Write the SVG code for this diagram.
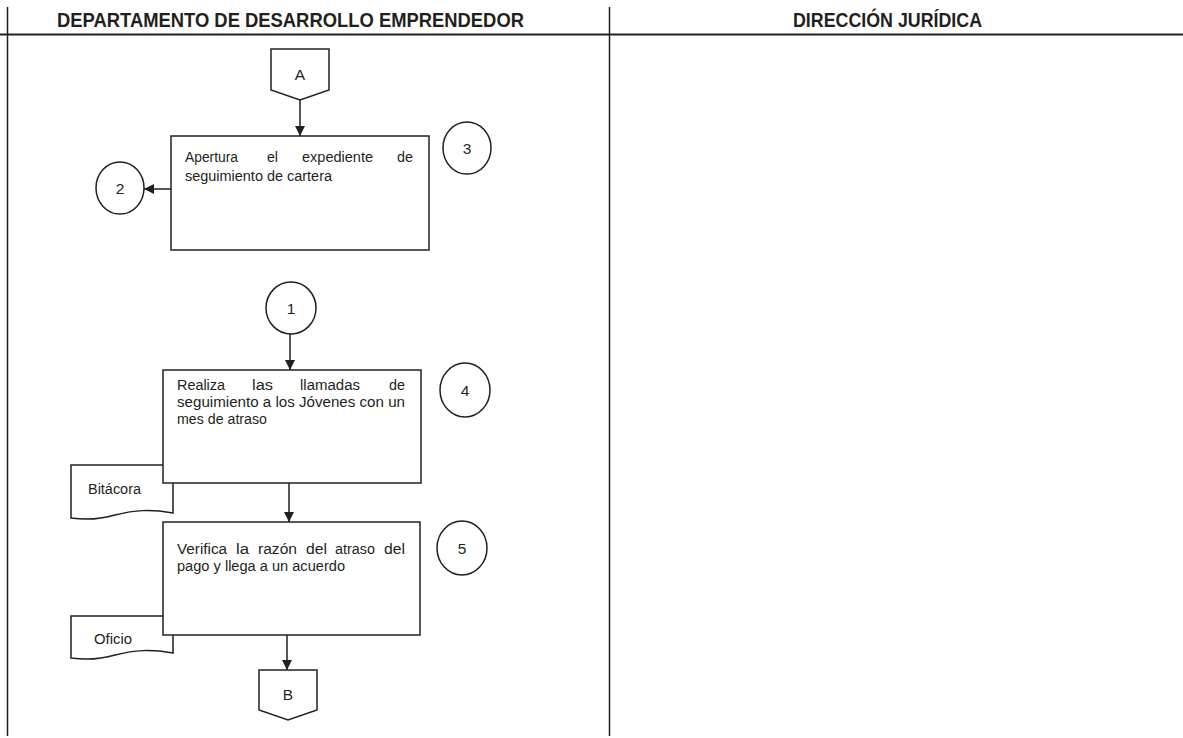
<svg xmlns="http://www.w3.org/2000/svg" width="1183" height="738" viewBox="0 0 1183 738">
<style>
.hdr{font-family:"Liberation Sans",Arial,sans-serif;font-weight:bold;font-size:20px;fill:#231f20}
.t{font-family:"Liberation Sans",Arial,sans-serif;font-size:15.5px;fill:#231f20}
.c{font-family:"Liberation Sans",Arial,sans-serif;font-size:15.5px;fill:#231f20;text-anchor:middle}
.sh{fill:#fff;stroke:#231f20;stroke-width:1.5}
.ln{stroke:#231f20;stroke-width:1.5;fill:none}
.lane{stroke:#231f20;stroke-width:1.5}
</style>
<defs>
<marker id="ah" viewBox="0 0 10 10" refX="10" refY="5" markerWidth="10" markerHeight="11" markerUnits="userSpaceOnUse" orient="auto">
<path d="M0,0 L10,5 L0,10 Z" fill="#231f20"/>
</marker>
</defs>
<rect width="1183" height="738" fill="#fff"/>
<g id="lanes">
<line class="lane" x1="7.5" y1="7" x2="7.5" y2="736"/>
<line class="lane" x1="609.5" y1="7" x2="609.5" y2="736"/>
<line x1="0" y1="34.5" x2="1183" y2="34.5" stroke="#231f20" stroke-width="2.2"/>
<text class="hdr" x="57" y="27" textLength="467" lengthAdjust="spacingAndGlyphs">DEPARTAMENTO DE DESARROLLO EMPRENDEDOR</text>
<text class="hdr" x="793" y="27" textLength="189" lengthAdjust="spacingAndGlyphs">DIRECCIÓN JURÍDICA</text>
</g>
<g id="connectors">
<line class="ln" x1="300" y1="100" x2="300" y2="136" marker-end="url(#ah)"/>
<line class="ln" x1="171" y1="189" x2="144" y2="189" marker-end="url(#ah)"/>
<line class="ln" x1="290" y1="334" x2="290" y2="370" marker-end="url(#ah)"/>
<line class="ln" x1="289" y1="483" x2="289" y2="522" marker-end="url(#ah)"/>
<line class="ln" x1="287" y1="635" x2="287" y2="670" marker-end="url(#ah)"/>
</g>
<g id="nodeA">
<path class="sh" d="M271,49 H329 V90 L300,100 L271,90 Z"/>
<text class="c" x="300" y="80">A</text>
</g>
<g id="step3">
<rect class="sh" x="171" y="136" width="258" height="114"/>
<text class="t" x="185" y="162" textLength="53" lengthAdjust="spacingAndGlyphs">Apertura</text>
<text class="t" x="267" y="162" textLength="11" lengthAdjust="spacingAndGlyphs">el</text>
<text class="t" x="302" y="162" textLength="71" lengthAdjust="spacingAndGlyphs">expediente</text>
<text class="t" x="397" y="162" textLength="16" lengthAdjust="spacingAndGlyphs">de</text>
<text class="t" x="185" y="181" textLength="147" lengthAdjust="spacingAndGlyphs">seguimiento de cartera</text>
</g>
<g id="circle3">
<ellipse class="sh" cx="467" cy="148" rx="24" ry="26"/>
<text class="c" x="467" y="154">3</text>
</g>
<g id="circle2">
<ellipse class="sh" cx="120" cy="188" rx="24" ry="26"/>
<text class="c" x="120" y="194">2</text>
</g>
<g id="circle1">
<ellipse class="sh" cx="291" cy="308" rx="25" ry="26"/>
<text class="c" x="291" y="314">1</text>
</g>
<g id="docBitacora">
<path class="sh" d="M71,465 H173 V513 C150,509 135,510 115,515 C98,520 85,520 71,518 Z"/>
<text class="t" x="88" y="494" textLength="53" lengthAdjust="spacingAndGlyphs">Bitácora</text>
</g>
<g id="step4">
<rect class="sh" x="163" y="370" width="258" height="113"/>
<text class="t" x="177" y="390" textLength="48" lengthAdjust="spacingAndGlyphs">Realiza</text>
<text class="t" x="252" y="390" textLength="21" lengthAdjust="spacingAndGlyphs">las</text>
<text class="t" x="300" y="390" textLength="60" lengthAdjust="spacingAndGlyphs">llamadas</text>
<text class="t" x="389" y="390" textLength="16" lengthAdjust="spacingAndGlyphs">de</text>
<text class="t" x="177" y="407" textLength="228" lengthAdjust="spacingAndGlyphs">seguimiento a los Jóvenes con un</text>
<text class="t" x="177" y="424" textLength="90" lengthAdjust="spacingAndGlyphs">mes de atraso</text>
</g>
<g id="circle4">
<ellipse class="sh" cx="465" cy="390" rx="25" ry="27"/>
<text class="c" x="465" y="396">4</text>
</g>
<g id="docOficio">
<path class="sh" d="M71,616 H173 V653 C150,649 135,650 115,655 C98,660 85,660 71,658 Z"/>
<text class="t" x="94" y="644" textLength="38" lengthAdjust="spacingAndGlyphs">Oficio</text>
</g>
<g id="step5">
<rect class="sh" x="163" y="522" width="257" height="113"/>
<text class="t" x="177" y="554" textLength="50" lengthAdjust="spacingAndGlyphs">Verifica</text>
<text class="t" x="236" y="554" textLength="13" lengthAdjust="spacingAndGlyphs">la</text>
<text class="t" x="258" y="554" textLength="39" lengthAdjust="spacingAndGlyphs">razón</text>
<text class="t" x="306" y="554" textLength="21" lengthAdjust="spacingAndGlyphs">del</text>
<text class="t" x="335" y="554" textLength="40" lengthAdjust="spacingAndGlyphs">atraso</text>
<text class="t" x="384" y="554" textLength="21" lengthAdjust="spacingAndGlyphs">del</text>
<text class="t" x="177" y="571" textLength="168" lengthAdjust="spacingAndGlyphs">pago y llega a un acuerdo</text>
</g>
<g id="circle5">
<ellipse class="sh" cx="462" cy="548" rx="25" ry="27"/>
<text class="c" x="462" y="554">5</text>
</g>
<g id="nodeB">
<path class="sh" d="M259,670 H317 V710 L288,720 L259,710 Z"/>
<text class="c" x="288" y="700">B</text>
</g>
</svg>
